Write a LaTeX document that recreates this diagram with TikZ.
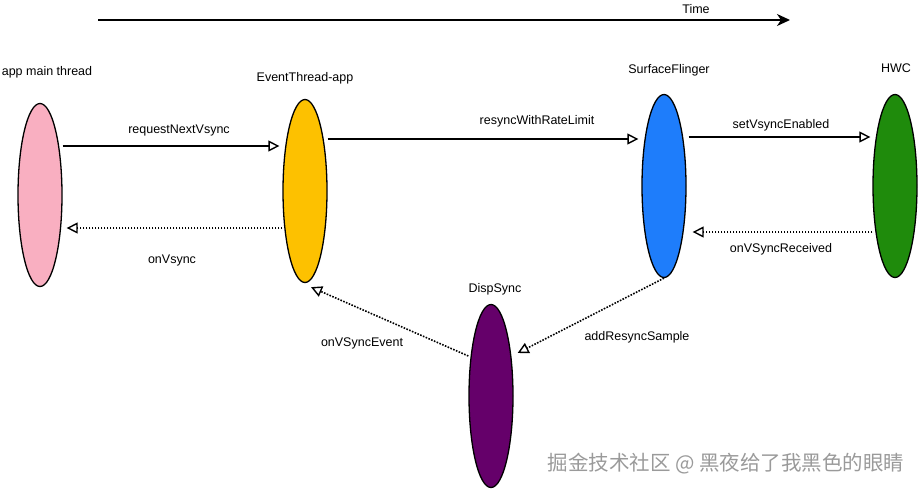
\documentclass[tikz,border=0pt]{standalone}
\usepackage{fontspec}
\setmainfont{Liberation Sans}
\newfontfamily\cjkfont{Noto Sans CJK SC}
\usetikzlibrary{arrows.meta,positioning,shapes.geometric}
\definecolor{rose}{HTML}{F9AFC1}
\definecolor{amber}{HTML}{FDC100}
\definecolor{azure}{HTML}{1E7DFB}
\definecolor{leaf}{HTML}{1F8B0C}
\definecolor{plum}{HTML}{65006A}
\definecolor{mark}{HTML}{9A9A9A}
\tikzset{
  actor/.style={ellipse,draw=black,line width=1.3pt,fill=#1,minimum width=44pt,minimum height=183pt,inner sep=0pt},
  tag/.style={font=\fontsize{12.5}{14}\selectfont,text=black,inner sep=0pt},
  call/.style={-{Triangle[open,length=11pt,width=11pt,line width=1.4pt]},line width=1.6pt},
  reply/.style={call,dash pattern=on 1.6pt off 1.4pt},
  timeline/.style={-{Stealth[length=13pt,width=12pt,inset=4pt]},line width=1.6pt},
}
\begin{document}
\begin{tikzpicture}[x=1pt,y=-1pt]
    \useasboundingbox (0,0) rectangle (921,491);
    % time axis
    \coordinate (t0) at (98,20);
    \coordinate (t1) at (790,20);
    \draw[timeline] (t0) -- (t1);
    \node[tag] (time) at (696,9) {Time};
    % the five parties
    \node[actor=rose] (app) at (40,195) {};
    \node[actor=amber] (evt) at (305,191) {};
    \node[actor=azure] (sf) at (664,186) {};
    \node[actor=leaf] (hwc) at (895,186) {};
    \node[actor=plum] (disp) at (491,396) {};
    \node[tag] (appname) at (47,72) {app main thread};
    \node[tag] (evtname) at (305,78) {EventThread-app};
    \node[tag] (sfname) at (669,70) {SurfaceFlinger};
    \node[tag] (hwcname) at (896,68) {HWC};
    \node[tag] (dispname) at (495,289) {DispSync};
    % calls
    \draw[call] ([yshift=49pt]app.east) -- ([xshift=-3pt,yshift=45pt]evt.west);
    \draw[reply] ([yshift=-37pt]evt.west) -- ([xshift=4pt,yshift=-33pt]app.east);
    \draw[call] ([yshift=52pt]evt.east) -- ([xshift=-3pt,yshift=47pt]sf.west);
    \draw[call] ([xshift=2pt,yshift=49pt]sf.east) -- ([xshift=-2pt,yshift=49pt]hwc.west);
    \draw[reply] ([yshift=-46pt]hwc.west) -- ([xshift=6pt,yshift=-46pt]sf.east);
    \draw[reply] ([yshift=40pt]disp.west) -- ([xshift=6pt,yshift=-4pt]evt.south);
    \draw[reply] (sf.south) -- ([xshift=4pt,yshift=43pt]disp.east);
    \node[tag] (req) at (179,130) {requestNextVsync};
    \node[tag] (onv) at (172,260) {onVsync};
    \node[tag] (resync) at (537,121) {resyncWithRateLimit};
    \node[tag] (enable) at (781,125) {setVsyncEnabled};
    \node[tag] (recv) at (781,249) {onVSyncReceived};
    \node[tag] (event) at (362,343) {onVSyncEvent};
    \node[tag] (sample) at (637,337) {addResyncSample};
    \node[font=\cjkfont\fontsize{20.5}{22}\selectfont,text=mark,inner sep=0pt] (wm) at (726,464) {掘金技术社区 @ 黑夜给了我黑色的眼睛};
  \end{tikzpicture}
\end{document}
